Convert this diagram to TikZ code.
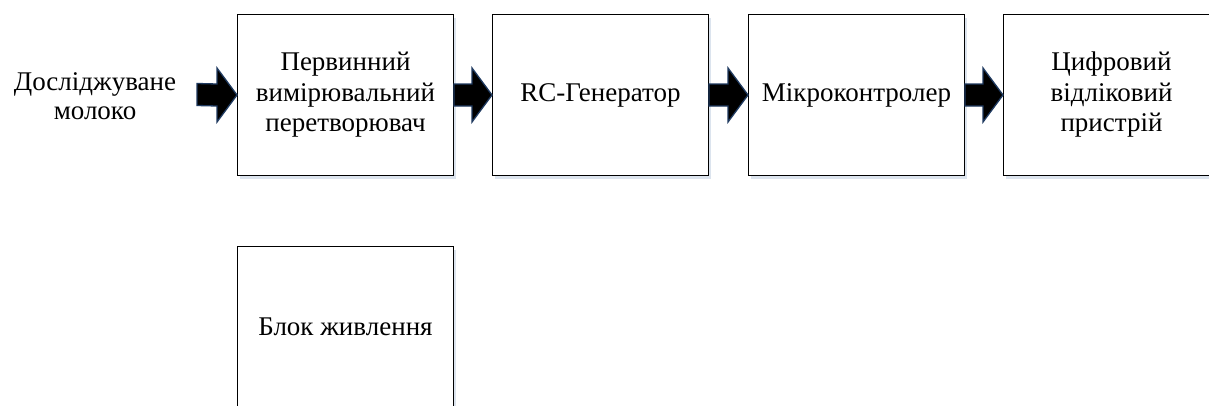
\documentclass[tikz,border=0pt]{standalone}
\usepackage{fontspec}
\setmainfont{Liberation Serif}
\usetikzlibrary{calc,shadows}
\definecolor{arrowblue}{HTML}{1F3A60}
\definecolor{shadowblue}{HTML}{9DB3D0}
\tikzset{
  blk/.style={draw, line width=1pt, fill=white, minimum width=216pt, minimum height=161pt,
    inner sep=0pt, align=center, anchor=north west, font=\fontsize{27}{30.5}\selectfont,
    drop shadow={shadow xshift=2pt, shadow yshift=-3pt, fill=shadowblue, opacity=0.35}},
  lbl/.style={align=center, inner sep=0pt, font=\fontsize{27}{29.5}\selectfont},
  barrow/.style={fill=black, draw=arrowblue, line width=1.3pt, line join=miter}
}
\newcommand\mybigarrow[2]{%
  \draw[barrow] ($(#1)+(0,-11)$) -- ($(#2)+(-20,-11)$) -- ($(#2)+(-20,-27)$) -- (#2)
    -- ($(#2)+(-20,27)$) -- ($(#2)+(-20,11)$) -- ($(#1)+(0,11)$) -- cycle;}
\begin{document}
\begin{tikzpicture}[x=1pt,y=-1pt]
\useasboundingbox (0,0) rectangle (1209,405);
\clip (0,0) rectangle (1209,405);
\fill[white] (0,0) rectangle (1209,405);
\node[lbl] (src) at (95,96) {Досліджуване\\молоко};
\coordinate (srcend) at (197,94.5);
\node[blk] (b1) at (237,14) {Первинний\\вимірювальний\\перетворювач};
\node[blk] (b2) at (492,14) {RC-Генератор};
\node[blk] (b3) at (748,14) {Мікроконтролер};
\node[blk] (b4) at (1003,14) {Цифровий\\відліковий\\пристрій};
\node[blk] (b5) at (237,246) {Блок живлення};
\mybigarrow{srcend}{b1.west}
\mybigarrow{b1.east}{b2.west}
\mybigarrow{b2.east}{b3.west}
\mybigarrow{b3.east}{b4.west}
\end{tikzpicture}
\end{document}
